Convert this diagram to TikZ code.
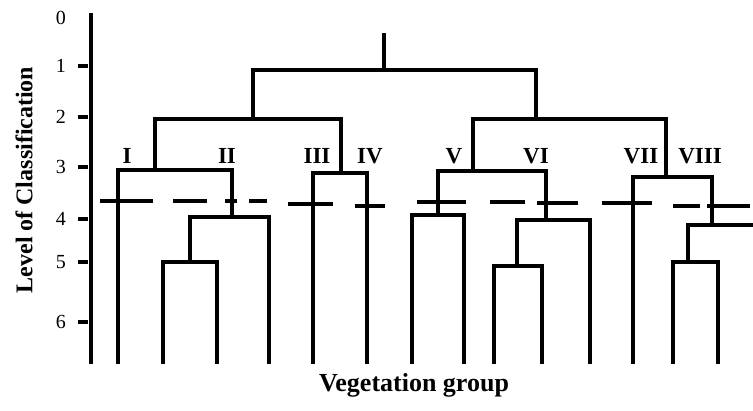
\documentclass[tikz,border=0pt]{standalone}
\usepackage{fontspec}
\setmainfont{Liberation Serif}
\begin{document}
\begin{tikzpicture}[x=1pt,y=-1pt,
  branch/.style={line width=4.8pt},
  axisline/.style={line width=4.2pt},
  tickmark/.style={line width=4.5pt},
  cutline/.style={line width=4.2pt},
  ticklabel/.style={font=\fontsize{20}{20}\selectfont, inner sep=0pt},
  grouplabel/.style={font=\fontsize{23}{23}\selectfont\bfseries, inner sep=0pt},
  axislabel/.style={font=\fontsize{24}{24}\selectfont\bfseries, inner sep=0pt}]
\useasboundingbox (0,0) rectangle (753,411);

% axis
\draw[axisline] (91,13) -- (91,364);
\foreach \lab/\yy in {1/66,2/117,3/167,4/219,5/262,6/322}{
  \draw[tickmark] (78,\yy) -- (88,\yy);
  \node[ticklabel] (t\lab) at (61,\yy) {\lab};
}
\node[ticklabel] (t0) at (61,18) {0};

% root
\draw[branch] (384,33) -- (384,70);
\draw[branch] (253,119) -- (253,70) -- (536,70) -- (536,119);
% left half
\draw[branch] (155,170) -- (155,119) -- (341,119) -- (341,173);
% I / II
\draw[branch] (118,364) -- (118,170) -- (232,170) -- (232,217);
\draw[branch] (190,262) -- (190,217) -- (269,217) -- (269,364);
\draw[branch] (163,364) -- (163,262) -- (217,262) -- (217,364);
% III / IV
\draw[branch] (313,364) -- (313,173) -- (367,173) -- (367,364);
% right half
\draw[branch] (473,171) -- (473,119) -- (666,119) -- (666,177);
% V / VI
\draw[branch] (438,215) -- (438,171) -- (546,171) -- (546,220);
\draw[branch] (412,364) -- (412,215) -- (464,215) -- (464,364);
\draw[branch] (517,266) -- (517,220) -- (590,220) -- (590,364);
\draw[branch] (494,364) -- (494,266) -- (542,266) -- (542,364);
% VII / VIII
\draw[branch] (633,364) -- (633,177) -- (712,177) -- (712,225);
\draw[branch] (688,262) -- (688,225) -- (753,225);
\draw[branch] (673,364) -- (673,262) -- (718,262) -- (718,364);

% cut line (dashed)
\foreach \xa/\xb/\yy in {100/153/201,173/207/201,225/237/201,249/267/201,
  288/333/204,355/385/206,417/466/202,490/525/202,537/578/203,
  602/652/203,673/700/206,707/750/206}{
  \draw[cutline] (\xa,\yy) -- (\xb,\yy);
}

% group labels
\node[grouplabel] (gI) at (127,156) {I};
\node[grouplabel] (gII) at (227,156) {II};
\node[grouplabel] (gIII) at (317,156) {III};
\node[grouplabel] (gIV) at (370,156) {IV};
\node[grouplabel] (gV) at (454,156) {V};
\node[grouplabel] (gVI) at (536,156) {VI};
\node[grouplabel] (gVII) at (641,156) {VII};
\node[grouplabel] (gVIII) at (700,156) {VIII};

% axis titles
\node[axislabel, rotate=90] (ylab) at (24,180) {Level of Classification};
\node[axislabel, font=\fontsize{26}{26}\selectfont\bfseries] (xlab) at (414,385) {Vegetation group};
\end{tikzpicture}
\end{document}
